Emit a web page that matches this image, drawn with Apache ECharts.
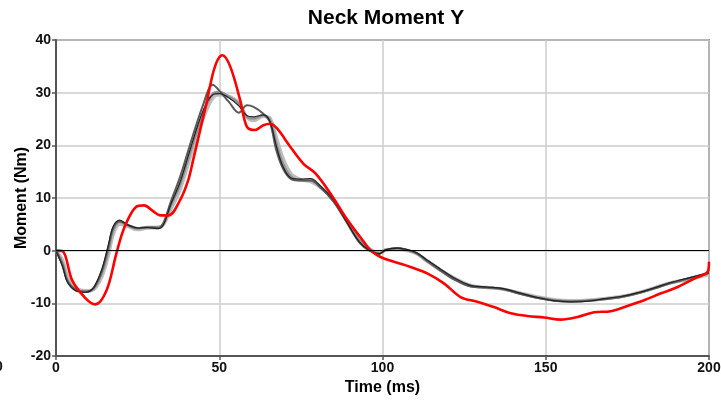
<!DOCTYPE html>
<html>
<head>
<meta charset="utf-8">
<script src="https://cdn.jsdelivr.net/npm/echarts@6/dist/echarts.min.js"></script>
<style>
html,body{margin:0;padding:0;background:#fff;}
#chart{width:721px;height:400px;}
</style>
</head>
<body>
<div id="chart"></div>
<script>
// ---- Data ----
const chartTitle = "Neck Moment Y";
const xAxisName = "Time (ms)";
const yAxisName = "Moment (Nm)";
const xTicks = [0, 50, 100, 150, 200];
const yTicks = [-20, -10, 0, 10, 20, 30, 40];

// shared time samples for the grey (test) curves, ms
const timeGrey = [0,2,3.5,6,9,11.5,14,16,17.5,19.5,22,25,28,31.5,33,35,38,41,45,48,50,53,56,58.5,60.5,63.5,65.5,67.5,69.5,72,75,78,81,85,89,93,96,99,101,104.5,107.5,110.5,113.5,118,122,127,132,137,142,147.5,152.5,157.5,163,168,173,178,183,188,193.5,200];

const greyMid   = [0,-2.4,-5.6,-7.5,-7.8,-7.2,-4.3,0,3.9,5.5,4.8,4.2,4.5,4.5,5.2,8.3,12.6,18.5,26,29.8,30.1,29.2,27.9,25.4,25.1,25.7,24.8,20.3,16.5,14,13.4,13.4,12.1,9.6,5.6,1.8,0.2,-0.5,0.1,0.4,0.1,-0.5,-1.8,-3.7,-5.3,-6.7,-7,-7.3,-8.1,-8.9,-9.4,-9.6,-9.5,-9.2,-8.8,-8.1,-7.2,-6.2,-5.4,-4.3];
const greyBlack = [0,-3.0,-6.0,-7.6,-7.9,-7.0,-3.6,1.0,4.6,5.8,4.9,4.3,4.4,4.2,5.0,8.5,13.0,19.0,26.5,29.6,29.8,29.0,27.5,25.6,25.4,25.8,24.6,19.8,16.0,13.8,13.6,13.7,12.3,9.6,5.5,1.6,0.1,-0.6,0.2,0.5,0.2,-0.4,-1.7,-3.6,-5.2,-6.6,-6.9,-7.2,-8.0,-8.9,-9.5,-9.7,-9.6,-9.1,-8.7,-8.0,-7.1,-6.1,-5.2,-4.2];
const greyDark  = [0,-2.8,-5.8,-7.4,-7.8,-7.1,-3.9,0.6,4.3,5.6,4.9,4.3,4.4,4.3,5.4,9.0,14.0,20.0,27.6,31.5,30.4,28.2,26.2,27.6,27.3,26.0,24.4,19.0,15.6,13.6,13.3,13.3,12.0,9.3,5.4,1.5,0.0,-0.6,0.1,0.5,0.2,-0.5,-1.9,-3.9,-5.5,-6.8,-7.0,-7.3,-8.2,-9.0,-9.5,-9.7,-9.5,-9.2,-8.8,-8.1,-7.2,-6.2,-5.3,-4.2];
const greyLight = [0,-1.8,-4.8,-7.0,-7.6,-7.4,-5.0,-1.0,3.0,5.0,4.6,4.0,4.3,4.4,5.0,7.6,11.6,17.5,25.0,29.0,29.6,29.3,28.1,25.3,24.7,25.5,25.2,21.5,17.6,14.6,13.5,13.1,12.0,9.8,6.0,2.2,0.4,-0.4,0.2,0.3,0.0,-0.6,-2.0,-3.8,-5.2,-6.6,-7.0,-7.3,-8.0,-8.8,-9.3,-9.5,-9.4,-9.1,-8.7,-8.0,-7.1,-6.1,-5.5,-4.5];

// red (reference) curve
const timeRed = [0,2,5,9,12,15.5,18.5,21,24.5,27,29.5,32,34.5,38,40.5,42,44,46.3,48,49.5,51,53.4,56.4,58.5,61,63.5,65.6,67.7,71.8,75.8,79.4,84,88.5,93.3,96.3,99.4,103.5,108.6,113.7,118.8,123.9,129,134.1,139.3,144.4,149.5,154.6,159.7,164.8,169.9,175,180.1,185.3,190.4,195.5,199.6,200];
const red       = [0,-0.1,-5.7,-9.0,-10.2,-7.5,-0.5,4.5,8.3,8.6,7.6,6.7,6.7,9.6,13.4,17.2,22.5,28.6,33.5,36.2,37.1,34.9,28.6,23.5,22.9,23.8,24.1,23.2,19.7,16.5,14.7,10.9,6.5,2.5,0.1,-1.2,-2.1,-3.1,-4.3,-6.2,-8.8,-9.7,-10.7,-11.9,-12.4,-12.7,-13.1,-12.6,-11.7,-11.5,-10.5,-9.4,-8.1,-6.9,-5.3,-4.0,-2.1];

function pairs(ts, vs){ return ts.map((t,i)=>[t, vs[i]]); }

const chart = echarts.init(document.getElementById('chart'), null, {renderer:'canvas'});
const FONT = 'Liberation Sans, Arial, sans-serif';

function lineSeries(name, ts, vs, color, width){
  return {
    name: name, type: 'line', data: pairs(ts, vs), smooth: 0.35,
    showSymbol: false, symbol: 'none', animation: false,
    lineStyle: {color: color, width: width},
    z: 3
  };
}

const series = [
  lineSeries('Test 4', timeGrey, greyLight, '#bdbdbd', 3.4),
  lineSeries('Test 3', timeGrey, greyMid, '#909090', 2.6),
  lineSeries('Test 2', timeGrey, greyDark, '#5a5a5a', 2.0),
  lineSeries('Test 1', timeGrey, greyBlack, '#222222', 1.2),
  lineSeries('Reference', timeRed, red, '#ff0000', 2.6)
];
// zero line
series[0].markLine = {
  silent: true, symbol: 'none', animation: false,
  label: {show: false},
  lineStyle: {color: '#000', width: 1, type: 'solid'},
  data: [{yAxis: 0}]
};

chart.setOption({
  backgroundColor: '#fff',
  animation: false,
  title: {
    text: chartTitle, left: 381, top: 3, textAlign: 'center',
    textStyle: {fontFamily: FONT, fontSize: 21, fontWeight: 'bold', color: '#000'}
  },
  grid: {left: 56, right: 12, top: 40, bottom: 44, show: true, borderColor: '#444', borderWidth: 1.5, backgroundColor: 'transparent', outerBoundsMode: 'none', containLabel: false},
  xAxis: {
    type: 'value', min: xTicks[0], max: xTicks[xTicks.length-1], interval: 50,
    name: xAxisName, nameLocation: 'middle', nameGap: 23,
    nameTextStyle: {fontFamily: FONT, fontSize: 16, fontWeight: 'bold', color: '#000'},
    axisLine: {show: true, onZero: false, lineStyle: {color: '#555', width: 2}},
    axisTick: {show: true, length: 4, lineStyle: {color: '#555', width: 1.5}},
    axisLabel: {fontFamily: FONT, fontSize: 14, fontWeight: 'bold', color: '#111', margin: 5},
    splitLine: {show: true, lineStyle: {color: '#cccccc', width: 1.5}}
  },
  yAxis: {
    type: 'value', min: yTicks[0], max: yTicks[yTicks.length-1], interval: 10,
    name: yAxisName, nameLocation: 'middle', nameGap: 26, nameMoveOverlap: false,
    nameTextStyle: {fontFamily: FONT, fontSize: 16, fontWeight: 'bold', color: '#000'},
    axisLine: {show: true, lineStyle: {color: '#555', width: 2}},
    axisTick: {show: true, length: 4, lineStyle: {color: '#555', width: 1.5}},
    axisLabel: {fontFamily: FONT, fontSize: 14, fontWeight: 'bold', color: '#111', margin: 5},
    splitLine: {show: true, lineStyle: {color: '#cccccc', width: 1.5}}
  },
  graphic: [{
    type: 'text', left: -5, top: 360,
    style: {text: '0', font: 'bold 14px ' + FONT, fill: '#111'}
  }],
  series: series
});
</script>
</body>
</html>
